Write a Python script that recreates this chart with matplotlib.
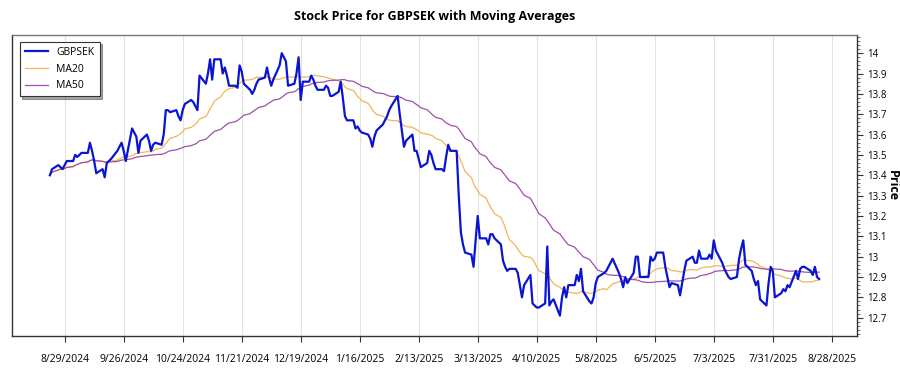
import pandas as pd
import matplotlib
matplotlib.use('Agg')
import matplotlib.pyplot as plt
from matplotlib.ticker import MultipleLocator, FormatStrFormatter

plt.rcParams['font.family'] = ['Open Sans', 'DejaVu Sans']

# Daily GBPSEK closes (business days)
start_date = '2024-08-22'
end_date = '2025-08-22'
price = [
    13.40, 13.43,
    13.45, 13.44, 13.43, 13.45, 13.47,  # Aug 26
    13.47, 13.50, 13.49, 13.50, 13.51,  # Sep 2
    13.51, 13.56, 13.52, 13.47, 13.41,  # Sep 9
    13.43, 13.39, 13.46, 13.47, 13.48,  # Sep 16
    13.52, 13.54, 13.56, 13.52, 13.47,  # Sep 23
    13.63, 13.61, 13.59, 13.51, 13.57,  # Sep 30
    13.60, 13.57, 13.52, 13.55, 13.56,  # Oct 7
    13.55, 13.60, 13.72, 13.72, 13.71,  # Oct 14
    13.72, 13.69, 13.67, 13.72, 13.75,  # Oct 21
    13.77, 13.76, 13.74, 13.72, 13.89,  # Oct 28
    13.85, 13.90, 13.97, 13.87, 13.97,  # Nov 4
    13.97, 13.90, 13.93, 13.89, 13.84,  # Nov 11
    13.84, 13.83, 13.94, 13.91, 13.85,  # Nov 18
    13.82, 13.80, 13.82, 13.85, 13.87,  # Nov 25
    13.88, 13.93, 13.88, 13.84, 13.87,  # Dec 2
    13.94, 14.00, 13.98, 13.96, 13.84,  # Dec 9
    13.85, 13.90, 13.98, 13.77, 13.86,  # Dec 16
    13.86, 13.89, 13.87, 13.84, 13.82,  # Dec 23
    13.82, 13.84, 13.83, 13.79, 13.79,  # Dec 30
    13.81, 13.86, 13.78, 13.69, 13.67,  # Jan 6
    13.67, 13.63, 13.64, 13.62, 13.61,  # Jan 13
    13.60, 13.58, 13.54, 13.59, 13.62,  # Jan 20
    13.65, 13.67, 13.69, 13.72, 13.74,  # Jan 27
    13.79, 13.70, 13.62, 13.54, 13.57,  # Feb 3
    13.60, 13.52, 13.52, 13.48, 13.44,  # Feb 10
    13.46, 13.52, 13.50, 13.46, 13.43,  # Feb 17
    13.43, 13.42, 13.49, 13.55, 13.52,  # Feb 24
    13.52, 13.30, 13.12, 13.06, 13.02,  # Mar 3
    13.01, 12.95, 13.08, 13.20, 13.09,  # Mar 10
    13.09, 13.06, 13.11, 13.11, 13.09,  # Mar 17
    13.06, 12.98, 12.95, 12.93, 12.94,  # Mar 24
    12.94, 12.92, 12.86, 12.80, 12.86,  # Mar 31
    12.91, 12.77, 12.76, 12.75, 12.75,  # Apr 7
    12.77, 13.05, 12.76, 12.78, 12.79,  # Apr 14
    12.71, 12.80, 12.85, 12.80, 12.86,  # Apr 21
    12.86, 12.91, 12.88, 12.94, 12.83,  # Apr 28
    12.78, 12.77, 12.80, 12.87, 12.90,  # May 5
    12.92, 12.93, 12.95, 12.97, 12.99,  # May 12
    12.92, 12.89, 12.85, 12.90, 12.87,  # May 19
    12.92, 13.00, 13.00, 12.90, 12.90,  # May 26
    12.90, 13.00, 12.98, 12.99, 13.02,  # Jun 2
    13.02, 12.95, 12.90, 12.85, 12.87,  # Jun 9
    12.86, 12.81, 12.87, 12.93, 12.98,  # Jun 16
    13.00, 12.97, 12.97, 13.03, 12.99,  # Jun 23
    12.99, 13.01, 12.99, 13.08, 13.03,  # Jun 30
    12.97, 12.94, 12.92, 12.90, 12.89,  # Jul 7
    12.90, 12.99, 13.04, 13.08, 12.96,  # Jul 14
    12.93, 12.89, 12.86, 12.88, 12.79,  # Jul 21
    12.76, 12.87, 12.95, 12.93, 12.80,  # Jul 28
    12.82, 12.84, 12.83, 12.86, 12.85,  # Aug 4
    12.93, 12.89, 12.94, 12.95, 12.95,  # Aug 11
    12.93, 12.91, 12.95, 12.90, 12.89,  # Aug 18
]
tick_start = '2024-08-29'
tick_end = '2025-08-28'
y_ticks = [12.7, 12.8, 12.9, 13.0, 13.1, 13.2, 13.3, 13.4, 13.5, 13.6, 13.7, 13.8, 13.9, 14.0]

df = pd.DataFrame({'Close': price}, index=pd.bdate_range(start_date, end_date))
df['MA20'] = df['Close'].rolling(20, min_periods=1).mean()
df['MA50'] = df['Close'].rolling(50, min_periods=1).mean()

fig = plt.figure(figsize=(9, 3.75), dpi=100)
ax = fig.add_axes([0.0133, 0.104, 0.939, 0.803])

ax.plot(df.index, df['Close'], color='#0a14d2', linewidth=1.6, label='GBPSEK', zorder=4)
ax.plot(df.index, df['MA20'], color='#f2b655', linewidth=0.9, label='MA20', zorder=3)
ax.plot(df.index, df['MA50'], color='#a050a8', linewidth=0.9, label='MA50', zorder=3)

ax.set_title('Stock Price for GBPSEK with Moving Averages', fontsize=9, fontweight='bold', pad=11)

# x axis: ticks every 4 weeks
xt = pd.date_range(tick_start, tick_end, freq='28D')
ax.set_xticks(xt)
ax.set_xticklabels([f'{d.month}/{d.day}/{d.year}' for d in xt], fontsize=7.5)
ax.set_xlim(pd.Timestamp('2024-08-04'), pd.Timestamp('2025-09-09'))
ax.tick_params(axis='x', direction='out', length=4, pad=9, color='#333333')
ax.grid(axis='x', color='#e3e3e3', linewidth=0.8)
ax.set_axisbelow(True)

# y axis on the right
ax.yaxis.tick_right()
ax.set_ylim(12.61, 14.09)
ax.set_yticks(y_ticks)
ax.yaxis.set_major_formatter(FormatStrFormatter('%g'))
ax.yaxis.set_minor_locator(MultipleLocator(0.02))
ax.tick_params(axis='y', which='major', direction='out', length=4, pad=3, labelsize=7, color='#333333')
ax.tick_params(axis='y', which='minor', direction='out', length=2, color='#555555')
ax.text(1.042, 0.5, 'Price', transform=ax.transAxes, fontsize=9, fontweight='bold',
        rotation=270, ha='center', va='center')

for s in ax.spines.values():
    s.set_color('#333333')
    s.set_linewidth(1.0)
ax.spines['top'].set_color('#777777')

leg = ax.legend(loc='upper left', fontsize=7.5, frameon=True, fancybox=False, shadow=True,
                edgecolor='#333333', handlelength=2.2, borderpad=0.5, labelspacing=0.55,
                bbox_to_anchor=(0.003, 0.995))
leg.get_frame().set_linewidth(0.8)

fig.savefig('out.png', dpi=100)
